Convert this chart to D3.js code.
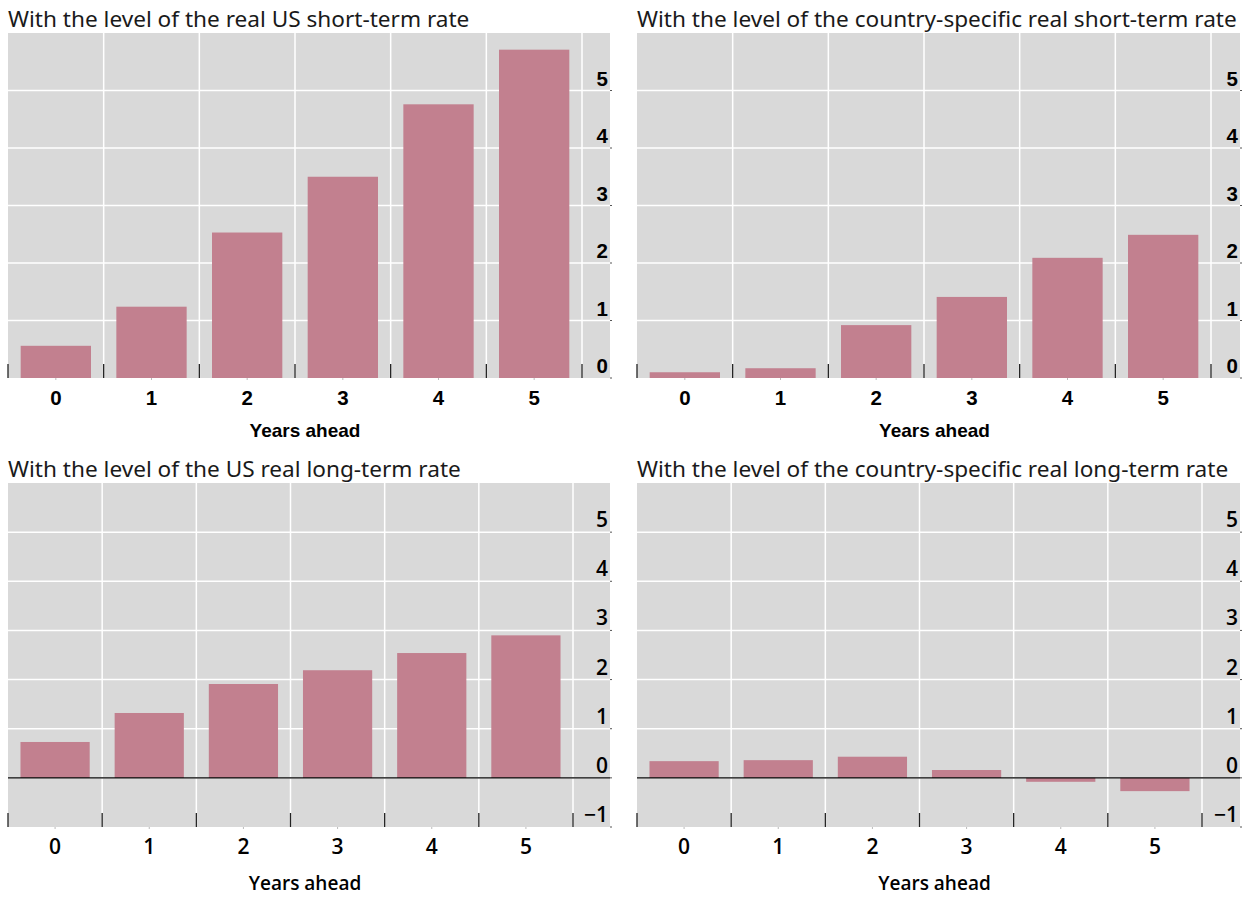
<!DOCTYPE html>
<html>
<head>
<meta charset="utf-8">
<script src="https://cdn.jsdelivr.net/npm/d3@7"></script>
<style>
  body { margin: 0; background: #fff; }
  svg { display: block; }
</style>
</head>
<body>
<svg id="chart" width="1245" height="898"></svg>
<script>
// years ahead on the x axis
const years = ["0", "1", "2", "3", "4", "5"];

// estimated responses
const usShortRate = [0.56, 1.24, 2.53, 3.50, 4.76, 5.71];
const ownShortRate = [0.10, 0.17, 0.92, 1.41, 2.09, 2.49];
const usLongRate = [0.73, 1.32, 1.91, 2.19, 2.54, 2.90];
const ownLongRate = [0.34, 0.36, 0.43, 0.16, -0.08, -0.27];

const titles = [
  "With the level of the real US short-term rate",
  "With the level of the country-specific real short-term rate",
  "With the level of the US real long-term rate",
  "With the level of the country-specific real long-term rate"
];

const topTicks = [0, 1, 2, 3, 4, 5];
const bottomTicks = [-1, 0, 1, 2, 3, 4, 5];

const svg = d3.select("#chart");

function drawPanel(p) {
  const g = svg.append("g");

  // band scale only for the boundaries, bars are narrower
  const x = d3.scaleBand().domain(years).range([p.left, p.bandEnd]);
  const y = d3.scaleLinear().domain(p.domain).range([p.bottom, p.top]);
  const barW = x.bandwidth() * 0.735;

  g.append("rect")
    .attr("x", p.left).attr("y", p.top)
    .attr("width", p.right - p.left).attr("height", p.bottom - p.top)
    .attr("fill", "#d9d9d9");

  // gridlines
  const bounds = years.map(d => x(d)).concat([p.bandEnd]);
  g.selectAll(".vgrid").data(bounds.slice(1))
    .enter().append("line")
    .attr("x1", d => d).attr("x2", d => d)
    .attr("y1", p.top).attr("y2", p.bottom)
    .attr("stroke", "#fff").attr("stroke-width", 1.5);

  g.selectAll(".hgrid").data(p.ticks.filter(t => t > p.domain[0]))
    .enter().append("line")
    .attr("x1", p.left).attr("x2", p.right)
    .attr("y1", d => y(d)).attr("y2", d => y(d))
    .attr("stroke", "#fff").attr("stroke-width", 1.5);

  // bars
  g.selectAll(".bar").data(p.values)
    .enter().append("rect")
    .attr("x", (d, i) => x(years[i]) + (x.bandwidth() - barW) / 2)
    .attr("y", d => y(Math.max(0, d)))
    .attr("width", barW)
    .attr("height", d => Math.abs(y(0) - y(d)))
    .attr("fill", "#c2808f");

  if (p.domain[0] < 0) {
    g.append("line")
      .attr("x1", p.left).attr("x2", p.right)
      .attr("y1", y(0)).attr("y2", y(0))
      .attr("stroke", "#000").attr("stroke-width", 1.2);
  }

  // ticks on the category boundaries
  g.selectAll(".xtick").data(bounds)
    .enter().append("line")
    .attr("x1", d => d).attr("x2", d => d)
    .attr("y1", p.bottom - 14).attr("y2", p.bottom)
    .attr("stroke", "#222").attr("stroke-width", 1.3);

  g.selectAll(".xdot").data(years)
    .enter().append("line")
    .attr("x1", d => x(d) + x.bandwidth() / 2).attr("x2", d => x(d) + x.bandwidth() / 2)
    .attr("y1", p.bottom).attr("y2", p.bottom + 2)
    .attr("stroke", "#bbb");

  g.selectAll(".ydot").data(p.ticks)
    .enter().append("line")
    .attr("x1", p.right).attr("x2", p.right + 2)
    .attr("y1", d => y(d)).attr("y2", d => y(d))
    .attr("stroke", "#555");

  // tick labels
  g.selectAll(".ylab").data(p.ticks)
    .enter().append("text")
    .attr("x", p.right - 2)
    .attr("y", d => y(d) - 5)
    .attr("text-anchor", "end")
    .attr("font-family", p.labelFont)
    .attr("font-weight", p.labelWeight)
    .attr("font-size", p.tickSize)
    .text(d => d < 0 ? "\u2212" + Math.abs(d) : d);

  g.selectAll(".xlab").data(years)
    .enter().append("text")
    .attr("x", d => x(d) + x.bandwidth() / 2)
    .attr("y", p.bottom + 27)
    .attr("text-anchor", "middle")
    .attr("font-family", p.labelFont)
    .attr("font-weight", p.labelWeight)
    .attr("font-size", p.tickSize)
    .text(d => d);

  g.append("text")
    .attr("x", (p.left + p.right) / 2 - 4)
    .attr("y", p.bottom + p.axisGap)
    .attr("text-anchor", "middle")
    .attr("font-family", p.labelFont)
    .attr("font-weight", p.labelWeight)
    .attr("font-size", p.labelSize)
    .text("Years ahead");

  g.append("text")
    .attr("x", p.left)
    .attr("y", p.top - 6)
    .attr("font-family", "'Noto Sans', 'Open Sans', sans-serif")
    .attr("font-size", 22.6)
    .attr("fill", "#1a1a1a")
    .text(p.title);
}

const arialBold = { labelFont: "'Liberation Sans', Arial, sans-serif", labelWeight: 700, labelSize: 19, tickSize: 20.5, axisGap: 59 };
const segoeSemi = { labelFont: "'Open Sans', 'Noto Sans', sans-serif", labelWeight: 600, labelSize: 19, tickSize: 21, axisGap: 63 };

drawPanel(Object.assign({ left: 8, right: 610, bandEnd: 582, top: 33, bottom: 378,
  domain: [0, 6], ticks: topTicks, values: usShortRate, title: titles[0] }, arialBold));
drawPanel(Object.assign({ left: 637, right: 1240, bandEnd: 1211, top: 33, bottom: 378,
  domain: [0, 6], ticks: topTicks, values: ownShortRate, title: titles[1] }, arialBold));
drawPanel(Object.assign({ left: 8, right: 610, bandEnd: 573, top: 483, bottom: 827,
  domain: [-1, 6], ticks: bottomTicks, values: usLongRate, title: titles[2] }, segoeSemi));
drawPanel(Object.assign({ left: 637, right: 1240, bandEnd: 1202, top: 483, bottom: 827,
  domain: [-1, 6], ticks: bottomTicks, values: ownLongRate, title: titles[3] }, segoeSemi));
</script>
</body>
</html>
